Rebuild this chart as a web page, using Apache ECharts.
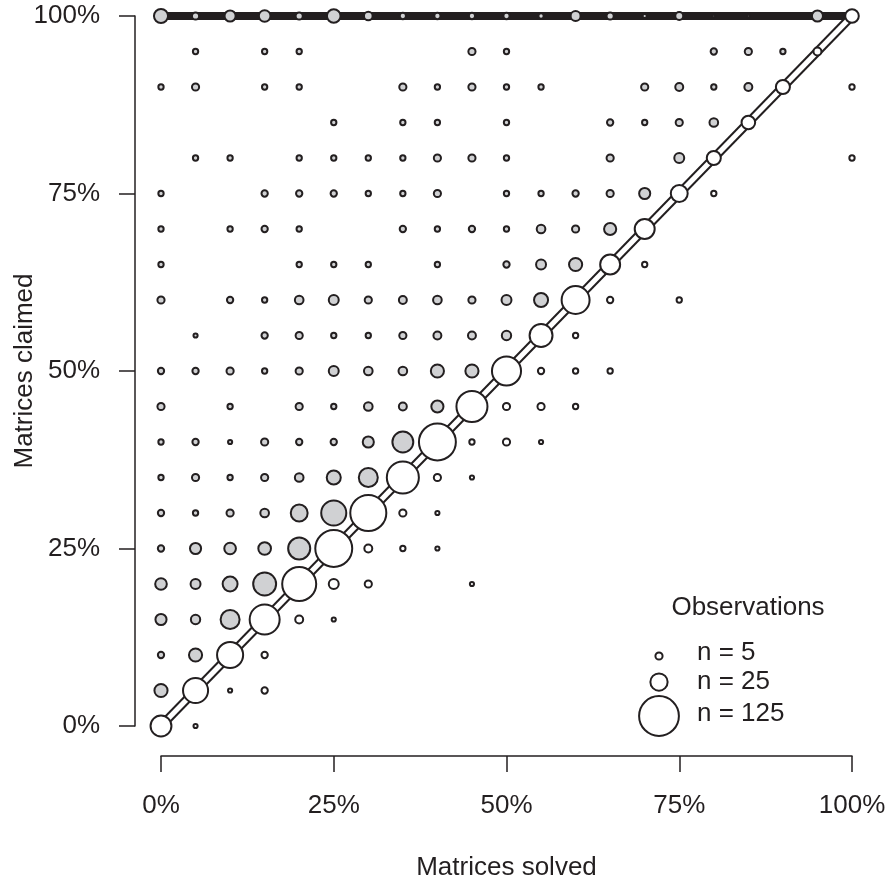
<!DOCTYPE html>
<html>
<head>
<meta charset="utf-8">
<script src="https://cdn.jsdelivr.net/npm/echarts@6/dist/echarts.min.js"></script>
<style>
html,body{margin:0;padding:0;background:#fff;}
#chart{width:888px;height:886px;}
</style>
</head>
<body>
<div id="chart"></div>
<script>
// Solved levels (x) and claimed levels (y), 5% steps
var solvedLevels = [0,0.05,0.10,0.15,0.20,0.25,0.30,0.35,0.40,0.45,0.50,0.55,0.60,0.65,0.70,0.75,0.80,0.85,0.90,0.95,1.00];
var claimedLevels = solvedLevels.slice();
var tickValues = [0,0.25,0.5,0.75,1];
var tickLabels = ['0%','25%','50%','75%','100%'];

// Observation counts per claimed level, one entry per solved level (0% .. 100%)
var claimed100 = [17,5,11,12,5,16,7,4,4,4,4,3,9,5,2,6,1,1,0,11,16];
var claimed95  = [0,3,0,3,3,0,0,0,0,5,3,0,0,0,0,0,4,5,3,6,0];
var claimed90  = [3,5,0,3,3,0,0,5,3,5,3,3,0,0,5,6,3,6,17,0,3];
var claimed85  = [0,0,0,0,0,3,0,3,3,0,3,0,0,4,3,5,7,16,0,0,0];
var claimed80  = [0,3,3,0,3,3,3,3,5,5,3,0,0,5,0,9,17,0,0,0,3];
var claimed75  = [3,0,0,4,4,4,3,3,5,0,3,3,4,5,11,24,3,0,0,0,0];
var claimed70  = [3,0,3,4,3,0,0,4,3,4,3,7,5,13,33,0,0,0,0,0,0];
var claimed65  = [3,0,0,0,3,3,3,0,3,0,4,9,15,33,3,0,0,0,0,0,0];
var claimed60  = [5,0,4,3,7,9,5,6,7,5,9,17,63,4,0,3,0,0,0,0,0];
var claimed55  = [0,2,0,4,5,3,3,5,6,6,8,43,3,0,0,0,0,0,0,0,0];
var claimed50  = [4,4,5,3,5,9,7,7,15,15,68,4,3,3,0,0,0,0,0,0,0];
var claimed45  = [5,0,3,0,5,3,7,6,13,77,5,5,3,0,0,0,0,0,0,0,0];
var claimed40  = [3,4,2,5,4,4,11,36,108,3,5,2,0,0,0,0,0,0,0,0,0];
var claimed35  = [3,5,3,5,7,17,30,82,5,2,0,0,0,0,0,0,0,0,0,0,0];
var claimed30  = [4,3,5,7,24,51,103,5,2,0,0,0,0,0,0,0,0,0,0,0,0];
var claimed25  = [4,11,12,14,40,108,6,3,2,0,0,0,0,0,0,0,0,0,0,0,0];
var claimed20  = [12,9,19,43,92,9,5,0,0,2,0,0,0,0,0,0,0,0,0,0,0];
var claimed15  = [11,8,30,72,6,2,0,0,0,0,0,0,0,0,0,0,0,0,0,0,0];
var claimed10  = [4,15,55,4,0,0,0,0,0,0,0,0,0,0,0,0,0,0,0,0,0];
var claimed5   = [15,51,2,4,0,0,0,0,0,0,0,0,0,0,0,0,0,0,0,0,0];
var claimed0   = [36,2,0,0,0,0,0,0,0,0,0,0,0,0,0,0,0,0,0,0,0];

var countRows = [claimed0,claimed5,claimed10,claimed15,claimed20,claimed25,claimed30,claimed35,claimed40,claimed45,claimed50,
                 claimed55,claimed60,claimed65,claimed70,claimed75,claimed80,claimed85,claimed90,claimed95,claimed100];

// Reference lines
var ceilingLine = [[0,1],[1,1]];
var diagonalLine = [[0,0],[1,1]];

// Legend sizes
var legendCounts = [5,25,125];
var legendLabels = ['n = 5','n = 25','n = 125'];

var INK = '#231f20';
var GREY = '#d0d1d3';
var FONT = '"Liberation Sans", Arial, Helvetica, sans-serif';
var BORDER = 2;
function outerDiameter(n){ return 3.65*Math.sqrt(n); }
function symSize(n){ return Math.max(outerDiameter(n) - 1, 1.5); }

var points = [];
for (var r = 0; r < countRows.length; r++) {
  for (var c = 0; c < solvedLevels.length; c++) {
    var n = countRows[r][c];
    if (n > 0) {
      points.push({
        value: [solvedLevels[c], claimedLevels[r], n],
        itemStyle: { color: r > c ? GREY : '#ffffff' }
      });
    }
  }
}

var chart = echarts.init(document.getElementById('chart'), null, {renderer:'canvas'});

var gridLeft = 161, gridTop = 16, gridRight = 36, gridBottom = 160;

var legendGraphics = [{
  type:'text',
  style:{ text:'Observations', x:748, y:608, fill:INK, font:'26px '+FONT, textAlign:'center', textVerticalAlign:'middle' }
}];
var legendY = [656, 682, 716];
var labelY = [653, 682, 714];
for (var i = 0; i < legendCounts.length; i++) {
  legendGraphics.push({
    type:'circle', shape:{cx:659, cy:legendY[i], r: symSize(legendCounts[i])/2},
    style:{fill:'#ffffff', stroke:INK, lineWidth:BORDER}
  });
  legendGraphics.push({
    type:'text',
    style:{ text:legendLabels[i], x:697, y:labelY[i], fill:INK, font:'26px '+FONT, textAlign:'left', textVerticalAlign:'middle' }
  });
}

function fmt(v){ var k = tickValues.indexOf(v); return k>=0 ? tickLabels[k] : ''; }

chart.setOption({
  animation:false,
  backgroundColor:'#ffffff',
  grid:{left:gridLeft, top:gridTop, right:gridRight, bottom:gridBottom, containLabel:false, outerBoundsMode:'none'},
  xAxis: {
    type:'value', min:0, max:1, interval:0.25,
    position:'bottom', offset:30,
    axisLine:{show:true, onZero:false, lineStyle:{color:INK, width:1.5}},
    axisTick:{show:true, length:16, lineStyle:{color:INK, width:1.5}},
    splitLine:{show:false},
    name:'Matrices solved', nameLocation:'middle', nameGap:99, nameMoveOverlap:false,
    nameTextStyle:{color:INK, fontSize:26, fontFamily:FONT},
    axisLabel:{color:INK, fontSize:26, fontFamily:FONT, margin:37, formatter:fmt}
  },
  yAxis: {
    type:'value', min:0, max:1, interval:0.25,
    position:'left', offset:26,
    axisLine:{show:true, onZero:false, lineStyle:{color:INK, width:1.5}},
    axisTick:{show:true, length:16, lineStyle:{color:INK, width:1.5}},
    splitLine:{show:false},
    name:'Matrices claimed', nameLocation:'middle', nameGap:97, nameMoveOverlap:false,
    nameTextStyle:{color:INK, fontSize:26, fontFamily:FONT},
    axisLabel:{color:INK, fontSize:26, fontFamily:FONT, margin:35, formatter:fmt}
  },
  series:[
    { type:'line', data:ceilingLine, symbol:'none', z:1, silent:true,
      lineStyle:{color:INK, width:8} },
    { type:'line', data:diagonalLine, symbol:'none', z:1, silent:true,
      lineStyle:{color:INK, width:9} },
    { type:'line', data:diagonalLine, symbol:'none', z:1, silent:true,
      lineStyle:{color:'#ffffff', width:5} },
    { type:'scatter', data:points, z:3,
      symbol:'circle',
      symbolSize:function(val){ return symSize(val[2]); },
      itemStyle:{borderColor:INK, borderWidth:BORDER, opacity:1} }
  ],
  graphic: legendGraphics
});
</script>
</body>
</html>
